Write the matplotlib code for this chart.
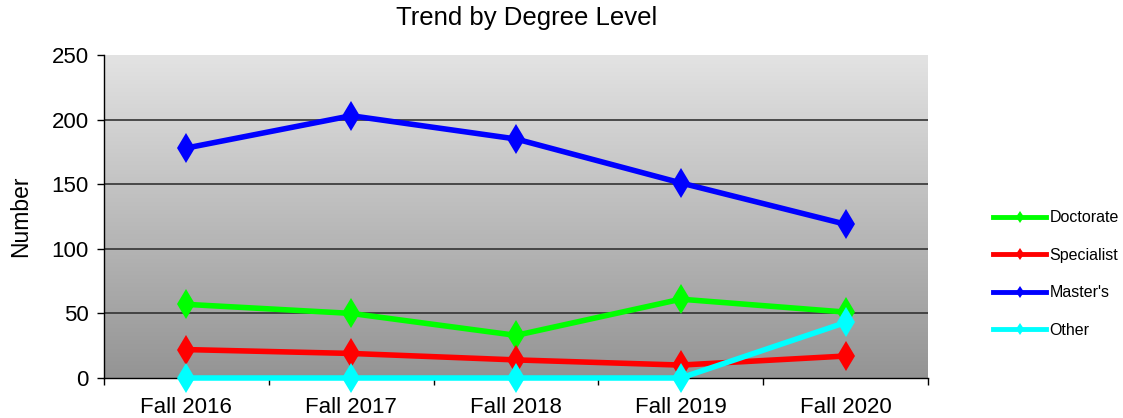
import matplotlib
matplotlib.use("Agg")
import matplotlib.pyplot as plt
import numpy as np
from matplotlib.lines import Line2D

categories = ["Fall 2016", "Fall 2017", "Fall 2018", "Fall 2019", "Fall 2020"]
doctorate = [57, 50, 33, 61, 51]
specialist = [22, 19, 14, 10, 17]
masters = [178, 203, 185, 151, 119]
other = [0, 0, 0, 0, 43]

series = [
    ("Doctorate", doctorate, "#00ff00"),
    ("Specialist", specialist, "#ff0000"),
    ("Master's", masters, "#0000ff"),
    ("Other", other, "#00ffff"),
]

plt.rcParams['font.family'] = ['Liberation Sans', 'DejaVu Sans']

fig = plt.figure(figsize=(11.23, 4.18), dpi=100)
ax = fig.add_axes([104/1123, 1 - 378/418, (928-104)/1123, (378-55)/418])

x = np.arange(len(categories))
ax.set_xlim(-0.5, len(categories) - 0.5)
ax.set_ylim(0, 250)

# gradient background
grad = np.linspace(0, 1, 256).reshape(-1, 1)
top = np.array([0.89, 0.89, 0.89])
bot = np.array([0.58, 0.58, 0.58])
img = top[None, None, :] * (1 - grad[:, :, None]) + bot[None, None, :] * grad[:, :, None]
ax.imshow(img, extent=[0, 1, 0, 1], transform=ax.transAxes, aspect='auto', zorder=0)

for yv in [50, 100, 150, 200]:
    ax.axhline(yv, color="#333333", lw=1.2, zorder=1)

for i, (name, vals, col) in enumerate(series):
    ax.plot(x, vals, color=col, lw=4, marker='d', markersize=15,
            markeredgewidth=0, zorder=3 + i, solid_joinstyle='round', clip_on=False)

for s in ["top", "right"]:
    ax.spines[s].set_visible(False)
for s in ["left", "bottom"]:
    ax.spines[s].set_color("black")
    ax.spines[s].set_linewidth(1.0)
    ax.spines[s].set_zorder(2)

ax.set_yticks([0, 50, 100, 150, 200, 250])
ax.tick_params(axis='y', labelsize=16, length=5, direction='out', width=1, pad=6)
ax.set_xticks(x)
ax.set_xticklabels(categories, fontsize=16)
ax.tick_params(axis='x', length=0, pad=14)
# category boundary ticks
ax.set_xticks(np.arange(len(categories) + 1) - 0.5, minor=True)
ax.tick_params(axis='x', which='minor', length=5, width=1, direction='out')

ax.set_ylabel("Number", fontsize=16.5, labelpad=14)
fig.text(527/1123, 1 - 18/418, "Trend by Degree Level", fontsize=18.5, ha='center', va='center')

handles = [Line2D([0], [0], color=col, lw=3.5, marker='d', markersize=6, markeredgewidth=0)
           for name, vals, col in series]
labels = [name for name, vals, col in series]
fig.legend(handles, labels, loc='center left', bbox_to_anchor=(987/1123, 1 - 274/418),
           frameon=False, fontsize=11.5, handlelength=3.3, labelspacing=1.4,
           handletextpad=0.2, borderaxespad=0.0)

fig.savefig("out.png", dpi=100)
